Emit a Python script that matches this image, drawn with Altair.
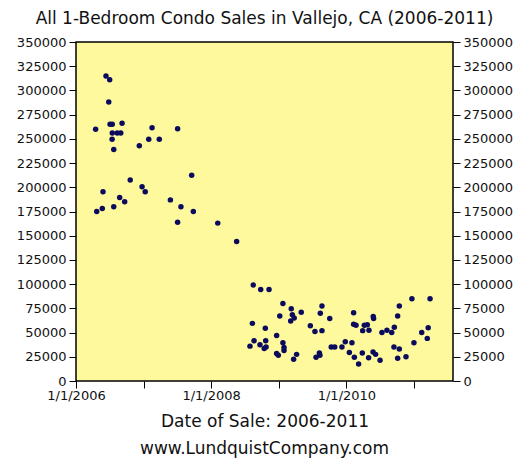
import altair as alt
import pandas as pd

TITLE = "All 1-Bedroom Condo Sales in Vallejo, CA (2006-2011)"
X_TITLE = "Date of Sale: 2006-2011"
FOOTER = "www.LundquistCompany.com"

dates = [
    "2006-04-17", "2006-06-12", "2006-07-02", "2006-06-27", "2006-07-04", "2006-07-16",
    "2006-09-07", "2006-07-16", "2006-08-12", "2006-08-31", "2006-07-15", "2006-07-24",
    "2006-12-09", "2007-01-29", "2007-02-16", "2007-03-27", "2007-07-04", "2006-10-21",
    "2006-12-24", "2007-01-10", "2006-05-27", "2006-04-23", "2006-05-23", "2006-07-24",
    "2006-08-25", "2006-09-21", "2007-05-26", "2007-07-22", "2007-09-27", "2007-09-18",
    "2007-07-04", "2008-02-06", "2008-05-18",
    "2008-08-16", "2008-09-25", "2008-11-09", "2008-08-11", "2008-08-20", "2008-07-29",
    "2008-09-21", "2008-10-20", "2008-10-22", "2008-10-14", "2008-10-24", "2008-12-20",
    "2008-12-20", "2008-12-29", "2009-01-06", "2009-01-23", "2009-01-23", "2009-01-29",
    "2009-01-29", "2009-03-09", "2009-03-15", "2009-03-25", "2009-03-06", "2009-05-02",
    "2009-03-22", "2009-04-07", "2009-06-20", "2009-07-15", "2009-08-22", "2009-08-13",
    "2009-08-22", "2009-10-03", "2009-07-21", "2009-08-08", "2009-08-11", "2009-10-11",
    "2009-10-30", "2009-12-08", "2009-12-26", "2010-01-31", "2010-01-17", "2010-02-13",
    "2010-03-08", "2010-02-09", "2010-02-09", "2010-02-22", "2010-03-28", "2010-04-08",
    "2010-04-24", "2010-03-30", "2010-05-03", "2010-05-01", "2010-05-25", "2010-06-08",
    "2010-05-26", "2010-05-28", "2010-07-02", "2010-07-12", "2010-08-08", "2010-09-03",
    "2010-09-17", "2010-10-05", "2010-10-14", "2010-09-15", "2010-10-14", "2010-10-05",
    "2010-11-19", "2010-12-21", "2011-01-01", "2011-02-12", "2011-03-19", "2011-03-14",
    "2011-03-29",
]
prices = [
    260000, 315000, 311000, 288000, 265000, 265000,
    266000, 256000, 256000, 256000, 249500, 239000,
    243000, 249500, 261500, 249500, 260500, 207500,
    200500, 195500, 195500, 175000, 178000, 180000,
    189500, 185000, 187000, 180000, 175000, 212500,
    164000, 163000, 144000,
    99000, 94500, 94500, 59500, 41500, 36000,
    37500, 54500, 41500, 33500, 35000, 47000,
    28500, 26500, 67000, 80000, 39500, 34500,
    31500, 74500, 68500, 65000, 62000, 71000,
    22500, 27500, 57000, 51000, 77500, 70000,
    52000, 64500, 24500, 29000, 26500, 35000,
    35000, 35000, 40500, 39500, 29500, 24500,
    17500, 70500, 58500, 57500, 29000, 57500,
    58000, 52000, 52500, 24000, 30000, 27500,
    66500, 64500, 21500, 50000, 52500, 50000,
    55500, 67000, 77500, 35000, 33000, 23500,
    25000, 85000, 39500, 50000, 55000, 44000,
    85000,
]
x_ticks = [2006, 2007, 2008, 2009, 2010, 2011]
y_ticks = list(range(0, 350001, 25000))

df = pd.DataFrame({"date": dates, "price": prices})

W, H = 377, 339
FONT = "DejaVu Sans"

x_scale = alt.Scale(
    type="utc",
    domain=[alt.DateTime(year=2006, month=1, date=1, utc=True),
            alt.DateTime(year=2011, month=7, date=31, utc=True)],
)
y_scale = alt.Scale(domain=[0, 350000], nice=False)

x_axis = alt.Axis(
    title=X_TITLE,
    values=[alt.DateTime(year=y, month=1, date=1, utc=True) for y in x_ticks],
    format="%-m/%-d/%Y",
    labelExpr="utcyear(datum.value) % 2 == 0 ? datum.label : ''",
    grid=False, domain=False, tickColor="black", tickSize=7, tickWidth=1,
    labelFont=FONT, labelFontSize=13, labelColor="#111", labelPadding=1,
    titleFont=FONT, titleFontSize=17, titleFontWeight="normal", titleColor="#111",
    titlePadding=11, labelFlush=False, labelOverlap=False,
)

def y_axis(orient):
    return alt.Axis(
        orient=orient, title=None, values=y_ticks, format="d",
        grid=False, domain=False, tickColor="black", tickSize=7, tickWidth=1,
        labelFont=FONT, labelFontSize=13, labelColor="#111", labelPadding=3,
        labelFlush=False, labelOverlap=False,
    )

base = alt.Chart(df)

points = base.mark_circle(size=30, color="#0b0b5e", opacity=1).encode(
    x=alt.X("date:T", scale=x_scale, axis=x_axis),
    y=alt.Y("price:Q", scale=y_scale, axis=y_axis("left")),
)

right = base.mark_circle(size=30, opacity=0).encode(
    x=alt.X("date:T", scale=x_scale, axis=x_axis),
    y=alt.Y("price:Q", scale=y_scale, axis=y_axis("right")),
)

footer = alt.Chart(pd.DataFrame({"t": [FOOTER]})).mark_text(
    font=FONT, fontSize=17, color="#111", align="center", baseline="alphabetic",
).encode(text="t:N", x=alt.value(W / 2), y=alt.value(H + 73))

chart = alt.layer(points, right, footer).resolve_axis(y="independent").properties(
    width=W, height=H,
    title=alt.TitleParams(TITLE, font=FONT, fontSize=17, fontWeight="normal",
                          color="#111", anchor="middle", offset=8),
    autosize=alt.AutoSizeParams(type="none"),
    padding={"left": 68, "top": 34, "right": 69, "bottom": 77},
    background="white",
).configure_view(
    fill="#FEF99C", stroke="black", strokeWidth=1.5,
)

chart.save("out.html", embed_options={"renderer": "svg", "actions": False})
